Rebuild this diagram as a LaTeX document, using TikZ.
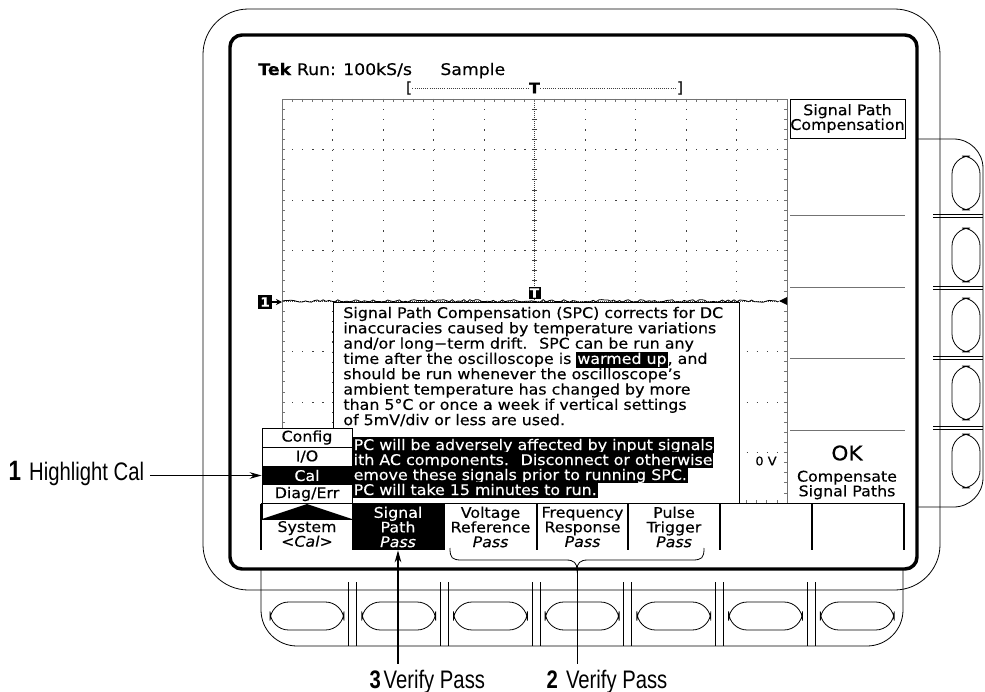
\documentclass[tikz,border=0pt]{standalone}
\usepackage{fontspec}
\newfontfamily\tekfont[FakeStretch=1.08,FakeBold=0.35]{DejaVu Sans}
\newfontfamily\notefont[FakeStretch=0.8]{Liberation Sans}
\usetikzlibrary{arrows.meta}
\newcommand\tekmark[1]{{\setlength\fboxsep{0.7pt}\colorbox{black}{\textcolor{white}{#1}}}}

\begin{document}
\begin{tikzpicture}[x=0.75pt,y=-0.75pt,line width=0.6pt,
  tek/.style={font=\tekfont\fontsize{11}{11}\selectfont, inner sep=0pt},
  note/.style={font=\notefont\fontsize{19}{19}\selectfont, inner sep=4pt},
  menucell/.style={tek, align=center, minimum width=69pt, minimum height=34.5pt},
  poprow/.style={tek, draw, fill=white, minimum width=67.5pt, minimum height=14.25pt},
  chmark/.style={fill=black, text=white, font=\tekfont\bfseries\fontsize{9.5}{9.5}\selectfont, inner sep=0.6pt, minimum width=9pt, minimum height=9.5pt},
  noteline/.style={-{Stealth[length=9pt,width=5pt]}, line width=0.8pt}]
  \definecolor{kGrid}{rgb}{0.25,0.25,0.25}
  \definecolor{kFrame}{rgb}{0.45,0.45,0.45}
  \useasboundingbox (0,0) rectangle (985,692);

  % bezel, side and bottom button panels
  \draw[rounded corners=34] (203,9) rectangle (940,590);
  \draw[rounded corners=22] (918,139) -- (983,139) -- (983,507) -- (918,507);
  \foreach \s in {216,288,358,428}
  {
    \draw (933,\s-1.5) -- (983,\s-1.5);
    \draw (933,\s+1.5) -- (983,\s+1.5);
  }
  \foreach \c in {183,255,325,393,461}
    \draw[rounded corners=13.5] (952,\c-27) rectangle (980,\c+27);
  \draw[rounded corners=27] (261,569) -- (261,646) -- (903,646) -- (903,569);
  \foreach \k in {1,...,6}
  {
    \pgfmathsetmacro\sx{261+91.71*\k}
    \draw (\sx-4,582) -- (\sx-4,646);
    \draw (\sx+4,582) -- (\sx+4,646);
  }
  \foreach \k in {0,...,6}
  {
    \pgfmathsetmacro\bx{307+91.71*\k}
    \draw[rounded corners=14] (\bx-37,602) rectangle (\bx+37,630);
  }

  % screen
  \draw[line width=2.6pt, rounded corners=9, fill=white] (230,35) rectangle (917,569);
  \node[tek, font=\tekfont\fontsize{12}{12}\selectfont, anchor=base west] (tek) at (258,75) {\textbf{Tek} Run: 100kS/s};
  \node[tek, font=\tekfont\fontsize{12}{12}\selectfont, anchor=base west] (mode) at (440,75) {Sample};
  \node[tek] (lbr) at (409,88) {[};
  \node[tek] (rbr) at (680,88) {]};
  \draw[kGrid, densely dotted] (lbr.east) -- (rbr.west);
  \node[tek, fill=white, inner sep=0.3pt] (trigpos) at (534.5,88) {\textbf{T}};

  % graticule
  \foreach \k in {1,2,3,4,6,7,8,9}
    \draw[kGrid, dash pattern=on 0.9pt off 6.675pt] (282+50.5*\k,99) -- (282+50.5*\k,503);
  \foreach \k in {1,2,3,5,6,7}
    \draw[kGrid, dash pattern=on 0.9pt off 6.675pt] (282,99+50.5*\k) -- (787,99+50.5*\k);
  \draw[kGrid, dash pattern=on 0.6pt off 0.9pt] (534.5,99) -- (534.5,503);
  \draw[kGrid, dash pattern=on 0.6pt off 0.9pt] (282,301) -- (787,301);
  \foreach \i in {1,...,39}
  {
    \draw[kGrid] (532,99+10.1*\i) -- (537,99+10.1*\i);
    \draw[kFrame] (282,99+10.1*\i) -- (285,99+10.1*\i);
    \draw[kFrame] (787,99+10.1*\i) -- (784,99+10.1*\i);
  }
  \foreach \i in {1,...,49}
  {
    \draw[kFrame] (282+10.1*\i,99) -- (282+10.1*\i,102);
    \draw[kFrame] (282+10.1*\i,503) -- (282+10.1*\i,500);
  }
  \draw[kFrame] (282,99) rectangle (787,503);

  % trace and markers
  \pgfmathsetseed{11}
  \draw[line width=0.6pt] plot[domain=282:778, samples=170] (\x,{301+1.4*rand});
  \fill (779,301) -- (787,297) -- (787,305) -- cycle;
  \node[chmark, minimum width=10pt, minimum height=10pt] (ch1) at (265,302) {1};
  \coordinate (gratleft) at (282,302);
  \draw[line width=1pt, -{Stealth[length=4.5pt,width=4.5pt]}] (ch1.east) -- (gratleft);
  \node[chmark] (trig) at (534.5,293) {T};

  % help text
  \draw[fill=white] (333,302) rectangle (739,503);
  \foreach \txt [count=\n] in {
      {Signal Path Compensation (SPC) corrects for DC},
      {inaccuracies caused by temperature variations},
      {and/or long−term drift.~ SPC can be run any},
      {time after the oscilloscope is \tekmark{warmed up}, and},
      {should be run whenever the oscilloscope’s},
      {ambient temperature has changed by more},
      {than 5°C or once a week if vertical settings},
      {of 5mV/div or less are used.}}
    \node[tek, anchor=base west] (help\n) at (343,{318+15.3*(\n-1)}) {\txt};
  \foreach \txt/\bl [count=\n] in {
      {PC will be adversely affected by input signals}/450,
      {ith AC components.~ Disconnect or otherwise}/465,
      {emove these signals prior to running SPC.}/480,
      {PC will take 15 minutes to run.}/495}
    \node[tek, fill=black, text=white, anchor=base west, text height=9.4pt, text depth=1.9pt, inner xsep=0.6pt] (warn\n) at (352.5,\bl) {\txt};

  % side menu
  \node[tek, draw, align=center, minimum width=86.25pt, minimum height=29.25pt] (spcbox) at (847.5,118.5) {Signal Path\\Compensation};
  \foreach \s in {215,287,358,430}
    \draw[kFrame] (790,\s) -- (905,\s);
  \node[font=\tekfont\fontsize{15}{15}\selectfont, inner sep=0pt] (ok) at (847,453) {OK};
  \node[tek, align=center] (okinfo) at (847,485) {Compensate\\Signal Paths};
  \node[font=\tekfont\fontsize{9}{9}\selectfont, inner sep=0pt] (zerov) at (766,461) {0 V};

  % bottom menu
  \draw[line width=0.8pt] (261,503.5) -- (905,503.5);
  \node[menucell, fill=black, text=white] (sigpath) at (398,527) {Signal\\Path\\\textit{Pass}};
  \node[menucell] (voltref) at (490.5,527) {Voltage\\Reference\\\textit{Pass}};
  \node[menucell] (freqresp) at (582.5,527) {Frequency\\Response\\\textit{Pass}};
  \node[menucell] (pulsetrig) at (674,527) {Pulse\\Trigger\\\textit{Pass}};
  \node[tek, align=center] (system) at (307,534) {System\\<\textit{Cal}>};
  \foreach \vx in {261,444,537,628,720,812,904}
    \draw[line width=1.2pt] (\vx,504) -- (\vx,550);

  % pop-up menu
  \node[poprow] (config) at (307,437.5) {Config};
  \node[poprow] (io) at (307,456.5) {I/O};
  \node[poprow, fill=black, text=white] (cal) at (307,475.5) {Cal};
  \node[poprow] (diag) at (307,494) {Diag/Err};
  \draw[fill=white] (262,503) rectangle (352,519);
  \fill (262,519) -- (307,504) -- (352,519) -- cycle;

  % callouts
  \node[note, anchor=west] (step1) at (3,473) {{\fontsize{21}{21}\selectfont\textbf{1}}\hspace{6pt}Highlight Cal};
  \draw[noteline] (step1.east |- cal.west) -- (cal.west);
  \node[note, anchor=base west] (step3) at (364,688) {\textbf{3}\hspace{2pt}Verify Pass};
  \draw[noteline] (sigpath.south |- step3.north) -- (sigpath.south);
  \node[note, anchor=base west] (step2) at (541,688) {\textbf{2}\hspace{6pt}Verify Pass};
  \coordinate (bracetip) at (577,570);
  \draw (450,548) .. controls (450,558) and (452,560) .. (462,560) -- (566,560)
    .. controls (574,560) and (577,563) .. (bracetip)
    .. controls (577,563) and (580,560) .. (588,560) -- (692,560)
    .. controls (702,560) and (704,558) .. (704,548);
  \draw (bracetip) -- (bracetip |- step2.north);
\end{tikzpicture}
\end{document}
